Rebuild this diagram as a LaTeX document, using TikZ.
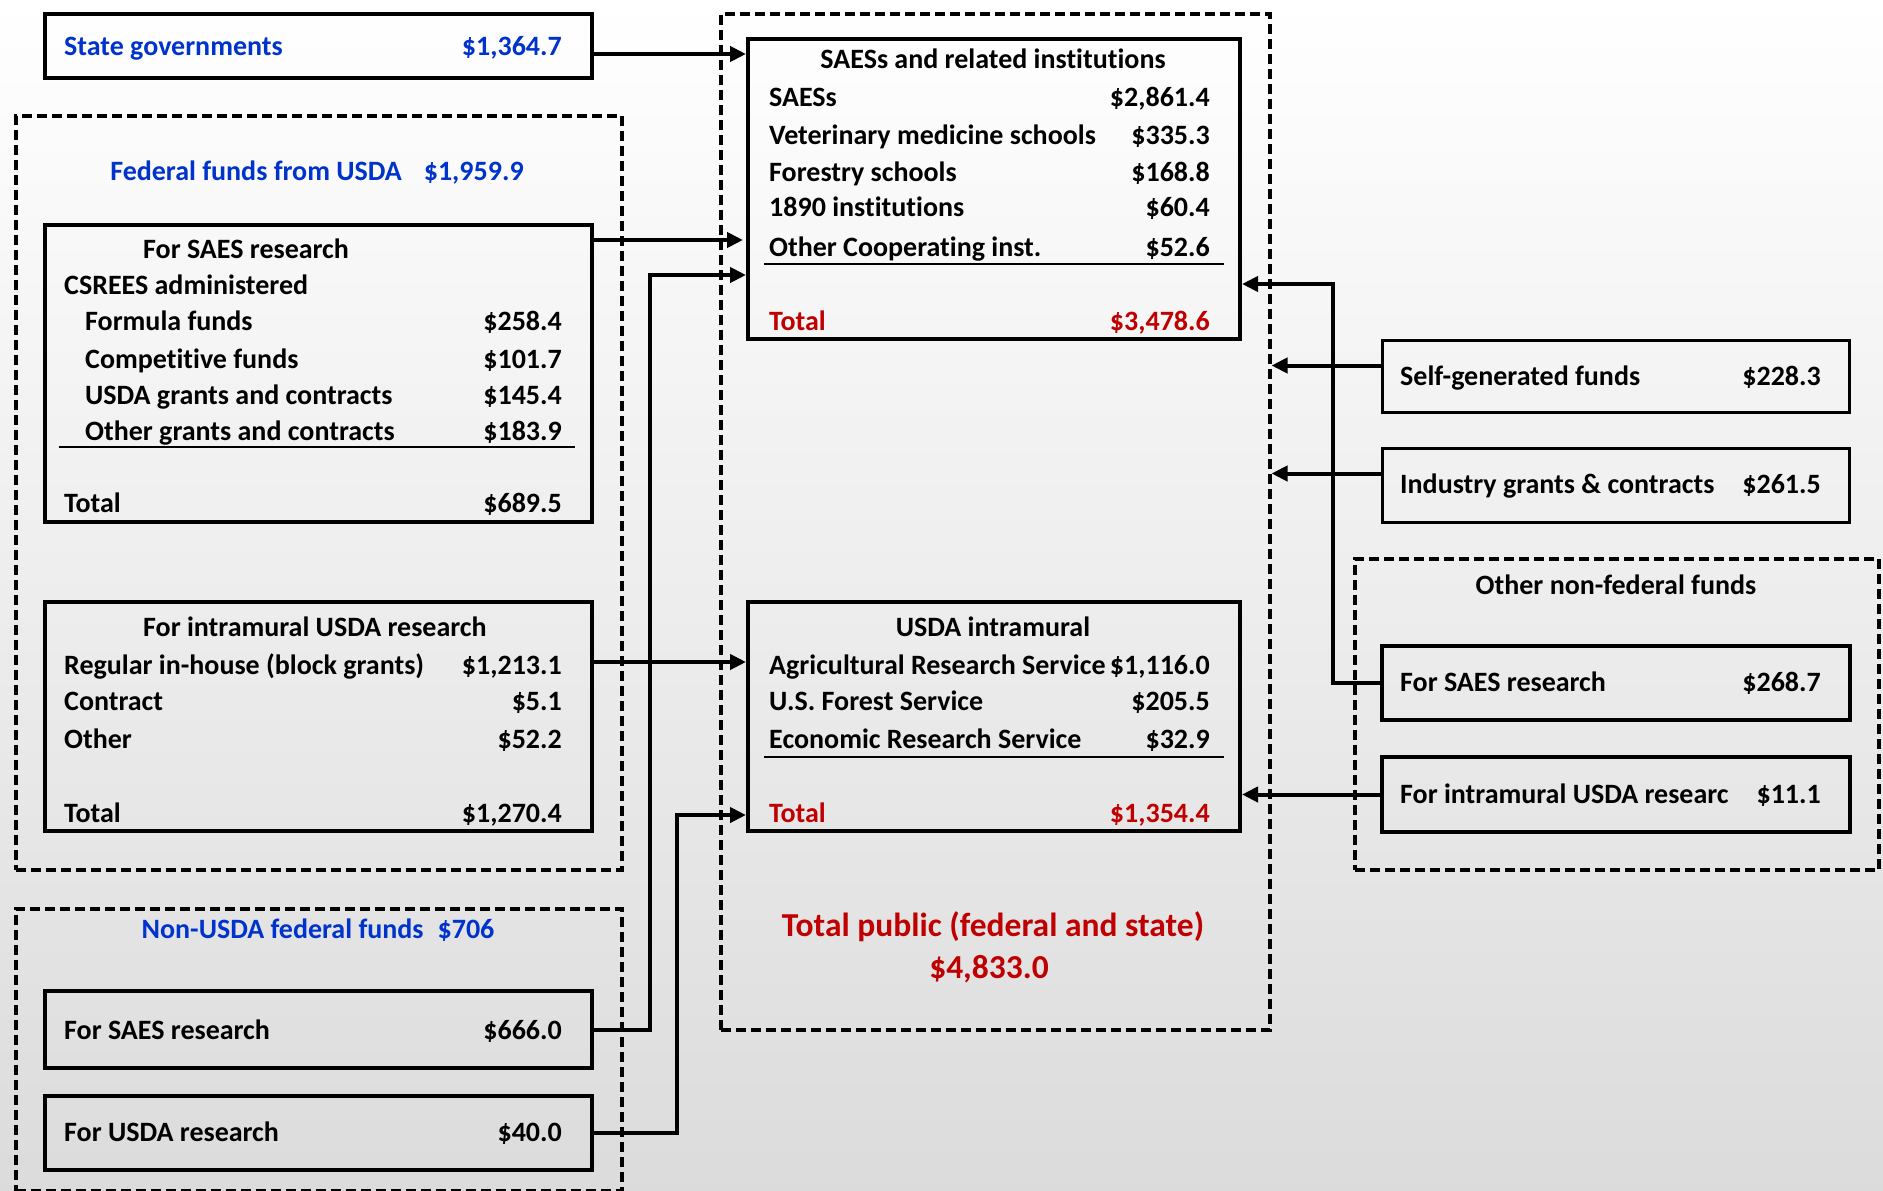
\documentclass[tikz,border=0pt]{standalone}
\usepackage{fontspec}
\setmainfont{Carlito}[Ligatures=CommonOff,RawFeature=-clig,RawFeature=-calt]
\usetikzlibrary{positioning,arrows.meta}

\definecolor{fedblue}{RGB}{0,51,204}
\definecolor{totred}{RGB}{192,0,0}

\tikzset{
  box/.style={draw,line width=4pt,anchor=north west,inner sep=0pt},
  thinbox/.style={box,line width=3pt},
  fundgroup/.style={draw,line width=3.5pt,dash pattern=on 10pt off 5pt,anchor=north west,inner sep=0pt},
  txt/.style={inner sep=0pt,font=\bfseries\fontsize{28}{34}\selectfont},
  bigtxt/.style={inner sep=0pt,anchor=base,text=totred,font=\bfseries\fontsize{33.5}{40}\selectfont},
  lbl/.style={txt,anchor=base west},
  val/.style={txt,anchor=base east},
  ttl/.style={txt,anchor=base},
  rule/.style={line width=2.5pt},
  flow/.style={line width=4pt,-{Triangle[length=16pt,width=15pt]}},
}

\begin{document}
\begin{tikzpicture}[x=1pt,y=-1pt]
\useasboundingbox (0,0) rectangle (1883,1191);
\fill[top color=white,bottom color=black!14] (0,0) rectangle (1883,1191);
%
% groups
\node[fundgroup,minimum width=606,minimum height=754] (fedgrp) at (14,114) {};
\node[fundgroup,minimum width=606,minimum height=282] (nugrp) at (14,907) {};
\node[fundgroup,minimum width=549,minimum height=1016] (pubgrp) at (719,12) {};
\node[fundgroup,minimum width=524,minimum height=311] (othgrp) at (1353,557) {};
%
% boxes
\node[box,minimum width=547,minimum height=64] (sg) at (43,12) {};
\node[box,minimum width=547,minimum height=297] (fsaes) at (43,223) {};
\node[box,minimum width=547,minimum height=229] (fintra) at (43,600) {};
\node[box,minimum width=547,minimum height=77] (nusaes) at (43,989) {};
\node[box,minimum width=547,minimum height=74] (nuusda) at (43,1094) {};
\node[box,minimum width=492,minimum height=300] (saes) at (746,37) {};
\node[box,minimum width=492,minimum height=229] (usdaint) at (746,600) {};
\node[thinbox,minimum width=467,minimum height=72] (selfgen) at (1381,339) {};
\node[thinbox,minimum width=467,minimum height=74] (industry) at (1381,447) {};
\node[box,minimum width=468,minimum height=74] (osaes) at (1380,644) {};
\node[box,minimum width=468,minimum height=75] (ointra) at (1380,755) {};
%
% state governments
\node[lbl,text=fedblue] (sgL) at (64,55) {State governments};
\node[val,text=fedblue] (sgV) at (562,55) {\$1,364.7};
%
% federal funds from USDA
\node[ttl,text=fedblue] (fedT) at (317,180) {Federal funds from USDA\hspace{22pt}\$1,959.9};
\node[lbl] (fsT) at (143,258) {For SAES research};
\node[lbl] (fsA) at (64,294) {CSREES administered};
\node[lbl] (fs1) at (85,330) {Formula funds};
\node[val] (fs1v) at (562,330) {\$258.4};
\node[lbl] (fs2) at (85,368) {Competitive funds};
\node[val] (fs2v) at (562,368) {\$101.7};
\node[lbl] (fs3) at (85,404) {USDA grants and contracts};
\node[val] (fs3v) at (562,404) {\$145.4};
\node[lbl] (fs4) at (85,440) {Other grants and contracts};
\node[val] (fs4v) at (562,440) {\$183.9};
\draw[rule] (59,447) -- (575,447);
\node[lbl] (fsS) at (64,512) {Total};
\node[val] (fsSv) at (562,512) {\$689.5};
%
\node[lbl] (fiT) at (143,636) {For intramural USDA research};
\node[lbl] (fi1) at (64,674) {Regular in-house (block grants)};
\node[val] (fi1v) at (562,674) {\$1,213.1};
\node[lbl] (fi2) at (64,710) {Contract};
\node[val] (fi2v) at (562,710) {\$5.1};
\node[lbl] (fi3) at (64,748) {Other};
\node[val] (fi3v) at (562,748) {\$52.2};
\node[lbl] (fiS) at (64,822) {Total};
\node[val] (fiSv) at (562,822) {\$1,270.4};
%
% non-USDA federal funds
\node[ttl,text=fedblue] (nuT) at (318,938) {Non-USDA federal funds\hspace{14pt}\$706};
\node[lbl] (nu1) at (64,1039) {For SAES research};
\node[val] (nu1v) at (562,1039) {\$666.0};
\node[lbl] (nu2) at (64,1141) {For USDA research};
\node[val] (nu2v) at (562,1141) {\$40.0};
%
% SAESs and related institutions
\node[ttl] (saT) at (993,68) {SAESs and related institutions};
\node[lbl] (sa1) at (769,106) {SAESs};
\node[val] (sa1v) at (1210,106) {\$2,861.4};
\node[lbl] (sa2) at (769,144) {Veterinary medicine schools};
\node[val] (sa2v) at (1210,144) {\$335.3};
\node[lbl] (sa3) at (769,181) {Forestry schools};
\node[val] (sa3v) at (1210,181) {\$168.8};
\node[lbl] (sa4) at (769,216) {1890 institutions};
\node[val] (sa4v) at (1210,216) {\$60.4};
\node[lbl] (sa5) at (769,256) {Other Cooperating inst.};
\node[val] (sa5v) at (1210,256) {\$52.6};
\draw[rule] (764,264) -- (1224,264);
\node[lbl,text=totred] (saS) at (769,330) {Total};
\node[val,text=totred] (saSv) at (1210,330) {\$3,478.6};
%
% USDA intramural
\node[ttl] (uiT) at (993,636) {USDA intramural};
\node[lbl] (ui1) at (769,674) {Agricultural Research Service};
\node[val] (ui1v) at (1210,674) {\$1,116.0};
\node[lbl] (ui2) at (769,710) {U.S. Forest Service};
\node[val] (ui2v) at (1210,710) {\$205.5};
\node[lbl] (ui3) at (769,748) {Economic Research Service};
\node[val] (ui3v) at (1210,748) {\$32.9};
\draw[rule] (764,757) -- (1224,757);
\node[lbl,text=totred] (uiS) at (769,822) {Total};
\node[val,text=totred] (uiSv) at (1210,822) {\$1,354.4};
%
\node[bigtxt] (pubT) at (993,936) {Total public (federal and state)};
\node[bigtxt] (pubV) at (989,978) {\$4,833.0};
%
% non-federal
\node[lbl] (sgf) at (1400,385) {Self-generated funds};
\node[val] (sgfv) at (1821,385) {\$228.3};
\node[lbl] (ind) at (1400,493) {Industry grants \& contracts};
\node[val] (indv) at (1821,493) {\$261.5};
\node[ttl] (othT) at (1616,594) {Other non-federal funds};
\node[lbl] (os) at (1400,691) {For SAES research};
\node[val] (osv) at (1821,691) {\$268.7};
\node[lbl] (oi) at (1400,803) {For intramural USDA researc};
\node[val] (oiv) at (1821,803) {\$11.1};
%
% flows
\draw[flow] ([yshift=-8pt]sg.east) -- ([yshift=-8pt]sg.east -| saes.west);
\draw[flow] ([xshift=-3pt,yshift=-17pt]fsaes.north east) -- ([xshift=-3pt,yshift=-17pt]fsaes.north east -| saes.west);
\draw[flow] (nusaes.east) -- ++(56,0) |- ([yshift=-238pt]saes.north west);
\draw[flow] ([yshift=-62pt]fintra.north east) -- ([yshift=-62pt]fintra.north east -| usdaint.west);
\draw[flow] (nuusda.east) -- ++(83,0) |- ([yshift=18pt]usdaint.south west);
%
\draw[flow] (osaes.west) -- ++(-47,0) |- ([yshift=57pt]saes.south east);
\draw[flow] ([yshift=11pt]selfgen.west) -- ([yshift=11pt]selfgen.west -| pubgrp.east);
\draw[flow] ([yshift=12pt]industry.west) -- ([yshift=12pt]industry.west -| pubgrp.east);
\draw[flow] (ointra.west) -- (ointra.west -| usdaint.east);
\end{tikzpicture}
\end{document}
